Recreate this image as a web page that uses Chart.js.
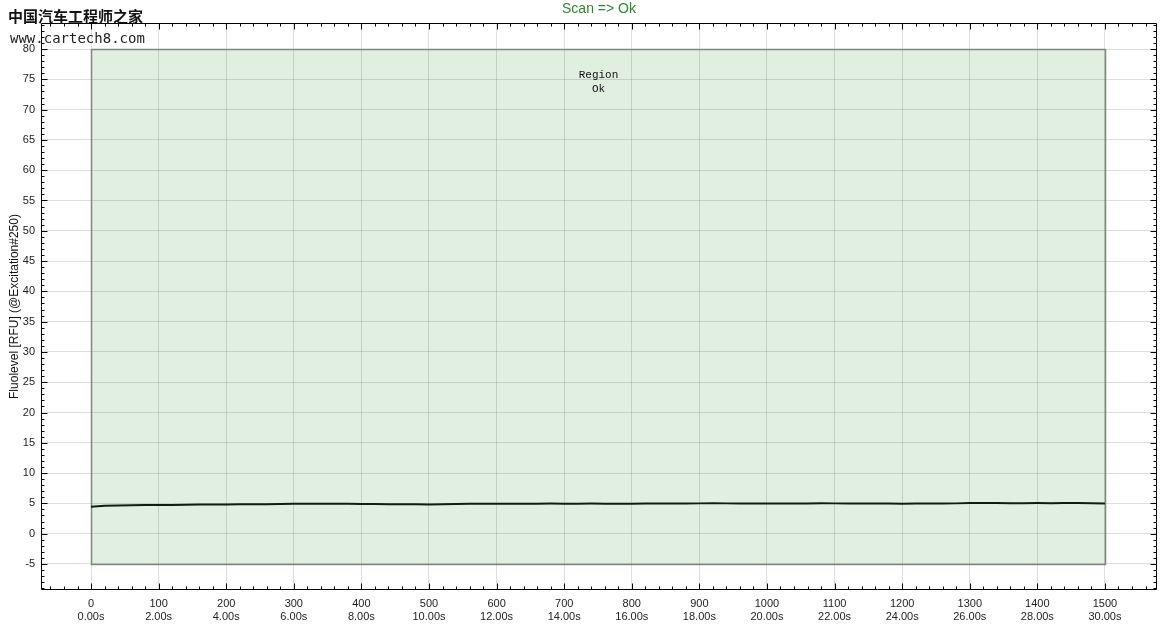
<!DOCTYPE html>
<html><head><meta charset="utf-8">
<script src="https://cdn.jsdelivr.net/npm/chart.js@4.4.1/dist/chart.umd.min.js"></script>
<style>html,body{margin:0;padding:0;background:#fff}</style>
</head><body>
<canvas id="c" width="1163" height="630"></canvas>
<script>
const chartTitle = 'Scan => Ok';
const yAxisTitle = 'Fluolevel [RFU] (@Excitation#250)';
const xTickValues = [0,100,200,300,400,500,600,700,800,900,1000,1100,1200,1300,1400,1500];
const xTickTimes = ['0.00s','2.00s','4.00s','6.00s','8.00s','10.00s','12.00s','14.00s','16.00s','18.00s','20.00s','22.00s','24.00s','26.00s','28.00s','30.00s'];
const yTickValues = [-5,0,5,10,15,20,25,30,35,40,45,50,55,60,65,70,75,80];
const xRange = [-74, 1577];
const yRange = [-9.3, 84.3];
const regionX = [0, 1500];
const regionY = [-5, 80];
const regionLabel = ['Region', 'Ok'];
const watermark = ['中国汽车工程师之家', 'www.cartech8.com'];
const sampleX = [0,20,40,60,80,100,120,140,160,180,200,220,240,260,280,300,320,340,360,380,400,420,440,460,480,500,520,540,560,580,600,620,640,660,680,700,720,740,760,780,800,820,840,860,880,900,920,940,960,980,1000,1020,1040,1060,1080,1100,1120,1140,1160,1180,1200,1220,1240,1260,1280,1300,1320,1340,1360,1380,1400,1420,1440,1460,1480,1500];
const fluoValues = [4.45,4.60,4.65,4.70,4.72,4.72,4.74,4.76,4.80,4.80,4.82,4.84,4.84,4.86,4.88,4.92,4.95,4.92,4.95,4.92,4.90,4.88,4.86,4.85,4.85,4.82,4.86,4.90,4.92,4.93,4.94,4.95,4.95,4.95,4.96,4.95,4.95,4.96,4.95,4.95,4.95,4.96,4.96,4.96,4.98,5.00,5.02,5.00,5.00,4.98,4.98,4.97,4.96,4.98,5.02,5.00,4.98,4.97,4.96,4.96,4.95,4.96,4.97,4.98,5.00,5.06,5.08,5.05,5.02,5.04,5.05,5.03,5.06,5.08,5.02,4.98];

const points = sampleX.map((x, i) => ({x: x, y: fluoValues[i]}));

const regionPlugin = {
  id: 'region',
  beforeDraw(chart) {
    const {ctx, scales: {x, y}} = chart;
    const l = x.getPixelForValue(regionX[0]), r = x.getPixelForValue(regionX[1]);
    const t = y.getPixelForValue(regionY[1]), b = y.getPixelForValue(regionY[0]);
    ctx.save();
    ctx.fillStyle = '#e1efe1';
    ctx.fillRect(l, t, r - l, b - t);
    ctx.restore();
  },
  beforeDatasetsDraw(chart) {
    const {ctx, scales: {x, y}} = chart;
    const l = Math.round(x.getPixelForValue(regionX[0])) + 0.5, r = Math.round(x.getPixelForValue(regionX[1])) + 0.5;
    const t = Math.round(y.getPixelForValue(regionY[1])) + 0.5, b = Math.round(y.getPixelForValue(regionY[0])) + 0.5;
    ctx.save();
    ctx.strokeStyle = '#7d877d';
    ctx.lineWidth = 1.5;
    ctx.strokeRect(l, t, r - l, b - t);
    ctx.fillStyle = '#111';
    ctx.font = '11px "Liberation Mono"';
    ctx.textAlign = 'center';
    ctx.textBaseline = 'middle';
    const cx = (l + r) / 2;
    ctx.fillText(regionLabel[0], cx, t + 26);
    ctx.fillText(regionLabel[1], cx, t + 40);
    ctx.restore();
  }
};

const framePlugin = {
  id: 'frame',
  afterDraw(chart) {
    const {ctx, chartArea: ca, scales: {x, y}} = chart;
    ctx.save();
    ctx.strokeStyle = '#000';
    ctx.lineWidth = 1;
    const L = Math.round(ca.left) + 0.5, R = Math.round(ca.right) - 0.5;
    const T = Math.round(ca.top) + 0.5, B = Math.round(ca.bottom) - 0.5;
    ctx.beginPath();
    ctx.moveTo(L, T); ctx.lineTo(R, T); ctx.lineTo(R, B); ctx.lineTo(L, B); ctx.closePath();
    for (let v = Math.ceil(yRange[0]); v <= yRange[1]; v++) {
      const py = Math.round(y.getPixelForValue(v)) + 0.5;
      const len = (v % 5 === 0) ? 6 : 3;
      ctx.moveTo(L, py); ctx.lineTo(L + len, py);
      ctx.moveTo(R, py); ctx.lineTo(R - len, py);
    }
    for (let v = Math.ceil(xRange[0] / 20) * 20; v <= xRange[1]; v += 20) {
      const px = Math.round(x.getPixelForValue(v)) + 0.5;
      const len = (v % 100 === 0) ? 6 : 3;
      ctx.moveTo(px, T); ctx.lineTo(px, T + len);
      ctx.moveTo(px, B); ctx.lineTo(px, B - len);
    }
    ctx.stroke();
    ctx.fillStyle = '#2a8a2a';
    ctx.font = '14px "Liberation Sans", Arial, sans-serif';
    ctx.textAlign = 'center';
    ctx.textBaseline = 'middle';
    ctx.fillText(chartTitle, (ca.left + ca.right) / 2, 9);
    ctx.textAlign = 'left';
    ctx.fillStyle = '#111';
    ctx.font = 'bold 15px "Noto Sans CJK SC"';
    ctx.fillText(watermark[0], 8, 16);
    ctx.fillStyle = '#222';
    ctx.font = '14px "DejaVu Sans Mono"';
    ctx.fillText(watermark[1], 10, 39);
    ctx.restore();
  }
};

new Chart(document.getElementById('c'), {
  type: 'line',
  data: {
    datasets: [{
      data: points,
      borderColor: '#0b1f0b',
      borderWidth: 2,
      pointRadius: 0,
      tension: 0,
      fill: false
    }]
  },
  options: {
    responsive: false,
    devicePixelRatio: 1,
    animation: false,
    parsing: false,
    layout: {padding: {top: 23, right: 6, left: 0, bottom: 0}},
    plugins: {legend: {display: false}, title: {display: false}, tooltip: {enabled: false}},
    scales: {
      x: {
        type: 'linear',
        min: xRange[0], max: xRange[1],
        afterBuildTicks: s => { s.ticks = xTickValues.map(v => ({value: v})); },
        afterFit: s => { s.height = 40; },
        grid: {color: 'rgba(0,0,0,0.13)', drawTicks: false, lineWidth: 1},
        border: {display: false},
        ticks: {
          padding: 7,
          color: '#222',
          font: {family: '"Liberation Sans", Arial, sans-serif', size: 11, lineHeight: '13px'},
          maxRotation: 0,
          autoSkip: false,
          callback: function(v) { const i = xTickValues.indexOf(v); return i >= 0 ? [String(v), xTickTimes[i]] : ''; }
        }
      },
      y: {
        type: 'linear',
        min: yRange[0], max: yRange[1],
        afterBuildTicks: s => { s.ticks = yTickValues.map(v => ({value: v})); },
        afterFit: s => { s.width = 41; },
        grid: {color: 'rgba(0,0,0,0.13)', drawTicks: false, lineWidth: 1},
        border: {display: false},
        title: {display: true, text: yAxisTitle, color: '#111', padding: {top: 7, bottom: 0},
                font: {family: '"Liberation Sans", Arial, sans-serif', size: 12}},
        ticks: {
          padding: 6,
          color: '#222',
          font: {family: '"Liberation Sans", Arial, sans-serif', size: 11},
          autoSkip: false,
          callback: v => String(v)
        }
      }
    }
  },
  plugins: [regionPlugin, framePlugin]
});
</script>
</body></html>
